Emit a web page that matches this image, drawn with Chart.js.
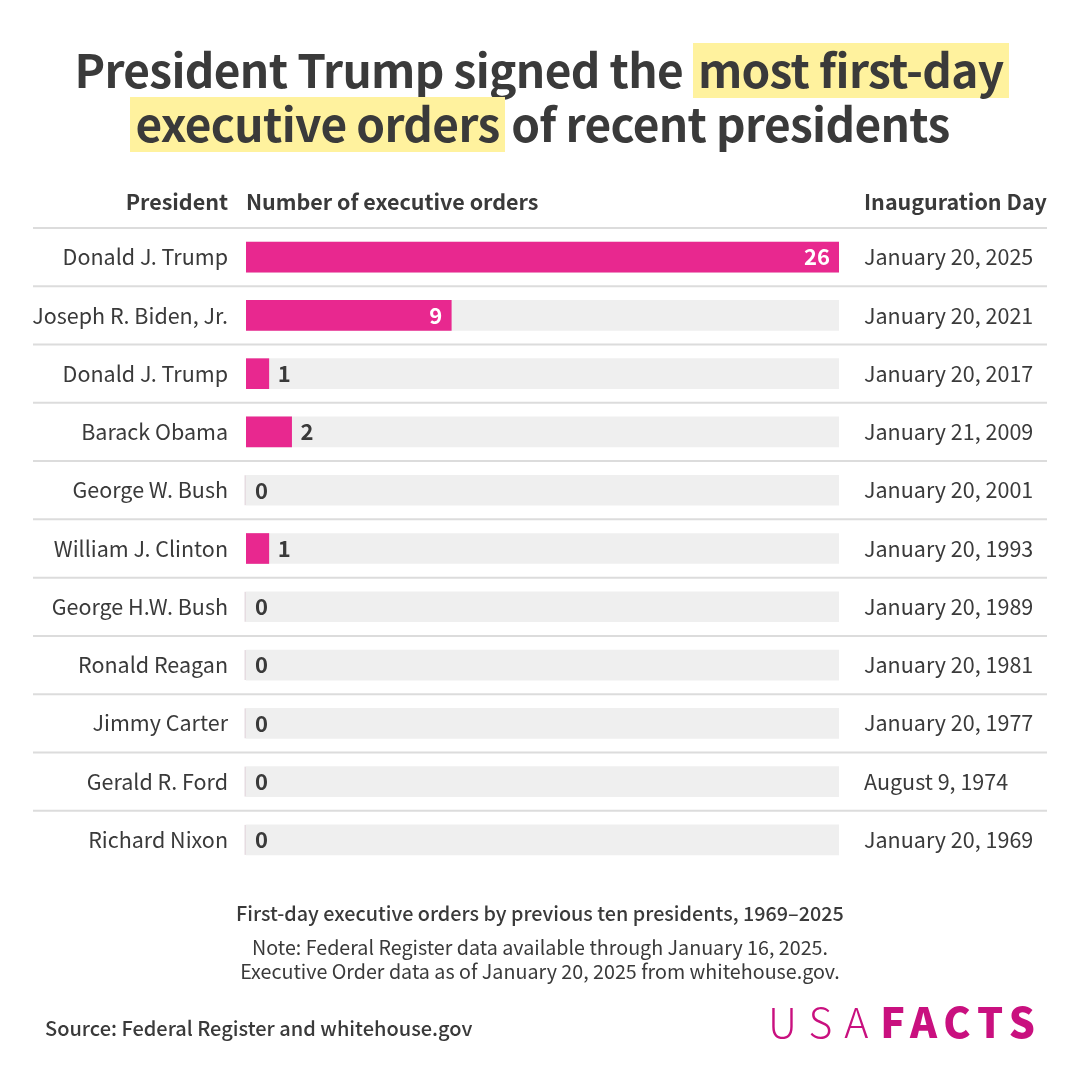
<!DOCTYPE html>
<html>
<head>
<meta charset="utf-8">
<script src="https://cdn.jsdelivr.net/npm/chart.js@4"></script>
<style>
    html, body { margin: 0; padding: 0; background: #fff; }
    body { width: 1080px; height: 1080px; position: relative; overflow: hidden; color: #3a3a3a; font-family: "Noto Sans CJK SC", "Noto Sans", sans-serif; }
    canvas { position: absolute; left: 0; top: 0; }
    .txt { position: absolute; white-space: nowrap; }
    .ctr { left: 0; width: 1080px; text-align: center; }
    #title { top: 41px; font-size: 46px; font-weight: 700; line-height: 54px; letter-spacing: -0.65px; }
    #title span { background: linear-gradient(#fff29e, #fff29e) 0 2px no-repeat; display: inline-block; padding: 0 5px 3px; margin: 0 -3px -3px 0; }
    .head { top: 185px; font-size: 21.5px; font-weight: 700; line-height: 32px; }
    #logo { left: 768px; top: 992px; font-size: 41px; line-height: 56px; color: #c9107f; letter-spacing: 12px; font-weight: 300; }
    #logo b { font-weight: 900; letter-spacing: 6.75px; }
</style>
</head>
<body>
<canvas id="chart" width="1080" height="1080"></canvas>
<div class="txt ctr" id="title">President Trump signed the <span>most first-day</span><br><span>executive orders</span> of recent presidents</div>
<div class="txt head" style="right:852px">President</div>
<div class="txt head" style="left:246px">Number of executive orders</div>
<div class="txt head" style="left:864px">Inauguration Day</div>
<div class="txt ctr" style="top:898px;font-size:19.8px;font-weight:500;line-height:30px">First-day executive orders by previous ten presidents, 1969–2025</div>
<div class="txt ctr" style="top:935px;font-size:19.7px;line-height:24px">Note: Federal Register data available through January 16, 2025.<br>Executive Order data as of January 20, 2025 from whitehouse.gov.</div>
<div class="txt" style="left:45px;top:1013px;font-size:20px;font-weight:500;line-height:30px">Source: Federal Register and whitehouse.gov</div>
<div class="txt" id="logo">USA<b>FACTS</b></div>
<script>
const presidents = ["Donald J. Trump", "Joseph R. Biden, Jr.", "Donald J. Trump", "Barack Obama", "George W. Bush", "William J. Clinton", "George H.W. Bush", "Ronald Reagan", "Jimmy Carter", "Gerald R. Ford", "Richard Nixon"];
const inaugurationDays = ["January 20, 2025", "January 20, 2021", "January 20, 2017", "January 21, 2009", "January 20, 2001", "January 20, 1993", "January 20, 1989", "January 20, 1981", "January 20, 1977", "August 9, 1974", "January 20, 1969"];
const orders = [26, 9, 1, 2, 0, 1, 0, 0, 0, 0, 0];
const maxOrders = 26;

const font = "'Noto Sans CJK SC', 'Noto Sans', sans-serif";
const textColor = "#3a3a3a";

// row separators, a faint tick on empty rows and the value labels
const rowsPlugin = {
    id: "rows",
    beforeDatasetsDraw: (chart) => {
        const ctx = chart.ctx, y = chart.scales.y;
        const step = y.getPixelForTick(1) - y.getPixelForTick(0);
        ctx.save();
        ctx.strokeStyle = "#dcdcdc";
        ctx.lineWidth = 2;
        presidents.forEach((p, i) => {
            const py = y.getPixelForTick(i) - step / 2;
            ctx.beginPath();
            ctx.moveTo(33, py);
            ctx.lineTo(1047, py);
            ctx.stroke();
        });
        ctx.restore();
    },
    afterDatasetsDraw: (chart) => {
        const ctx = chart.ctx, x = chart.scales.x;
        const bars = chart.getDatasetMeta(1).data;
        ctx.save();
        ctx.font = "700 22px " + font;
        ctx.textBaseline = "middle";
        orders.forEach((v, i) => {
            const bar = bars[i];
            if (v === 0) {
                ctx.fillStyle = "#e6dce1";
                ctx.fillRect(x.getPixelForValue(0) - 1.5, bar.y - 15, 1.5, 30);
            }
            if (v >= 9) {
                ctx.fillStyle = "#ffffff";
                ctx.textAlign = "right";
                ctx.fillText(v, bar.x - 9, bar.y);
            } else {
                ctx.fillStyle = textColor;
                ctx.textAlign = "left";
                ctx.fillText(v, bar.x + 9, bar.y);
            }
        });
        ctx.restore();
    }
};

new Chart(document.getElementById("chart"), {
    type: "bar",
    data: {
        labels: presidents,
        datasets: [
            { label: "Track", data: presidents.map(() => maxOrders), backgroundColor: "#efefef", order: 2 },
            { label: "Executive orders", data: orders, backgroundColor: (c) => c.raw === 0 ? "rgba(0,0,0,0)" : "#e8288f", order: 1 }
        ]
    },
    plugins: [rowsPlugin],
    options: {
        indexAxis: "y",
        responsive: false,
        animation: false,
        events: [],
        layout: { padding: { left: 0, right: 0, top: 228, bottom: 211 } },
        plugins: { legend: { display: false }, tooltip: { enabled: false } },
        datasets: { bar: { grouped: false, barThickness: 30 } },
        scales: {
            x: { min: 0, max: maxOrders, display: false },
            y: {
                grid: { display: false, drawTicks: false },
                border: { display: false },
                ticks: { color: textColor, font: { family: font, size: 21.5 }, padding: 18, autoSkip: false },
                afterFit: (s) => { s.width = 246; }
            },
            y2: {
                type: "category",
                labels: inaugurationDays,
                position: "right",
                offset: true,
                grid: { display: false, drawTicks: false },
                border: { display: false },
                ticks: { color: textColor, font: { family: font, size: 21.5 }, padding: 25, autoSkip: false },
                afterFit: (s) => { s.width = 241; }
            }
        }
    }
});
</script>
</body>
</html>
